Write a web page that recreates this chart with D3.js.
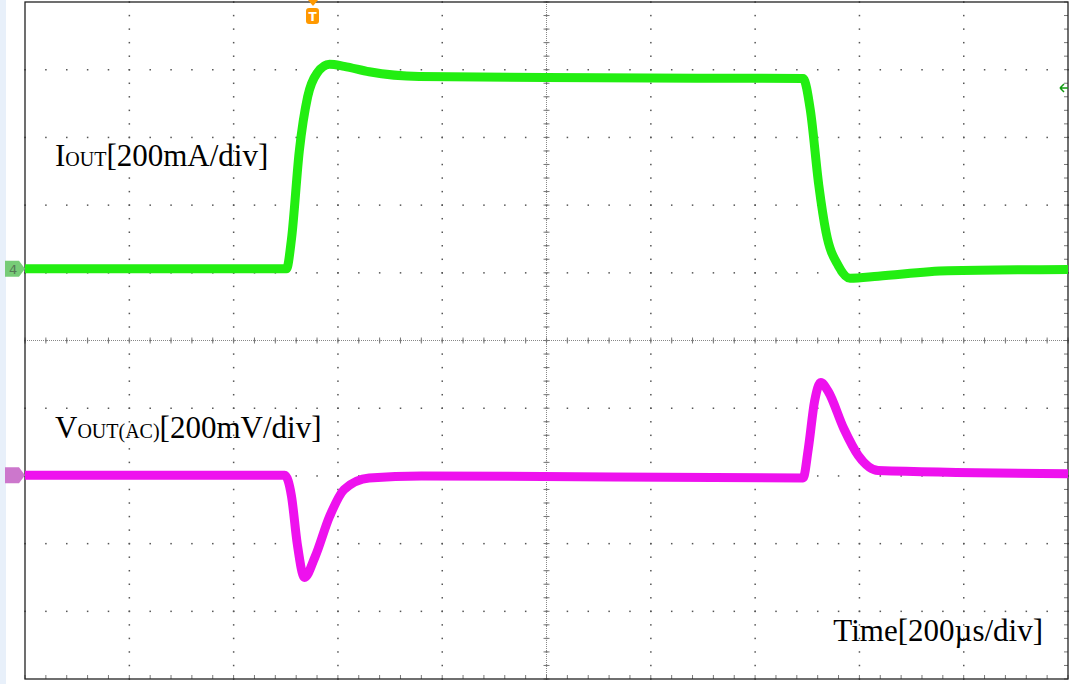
<!DOCTYPE html><html><head><script src="https://cdn.jsdelivr.net/npm/d3@7"></script>
<style>body{margin:0;background:#fff}</style></head><body><svg id="c" width="1071" height="684"></svg><script>
const iTime=[0,2.507,2.555,2.63,2.71,2.80,2.92,3.06,3.30,3.78,5.5,7.46,7.53,7.61,7.68,7.80,7.91,8.18,8.85,10];
const iVal=[1.06,1.06,1.5,2.8,3.6,3.95,4.08,4.05,3.97,3.9,3.88,3.87,3.4,2.3,1.6,1.1,0.92,0.95,1.03,1.05];
const vTime=[0,2.49,2.555,2.61,2.68,2.78,2.92,3.06,3.30,3.8,7.46,7.51,7.57,7.63,7.70,7.85,7.99,8.18,10];
const vVal=[-1.99,-1.99,-2.3,-3.0,-3.5,-3.2,-2.6,-2.2,-2.03,-2.0,-2.03,-1.6,-0.9,-0.62,-0.75,-1.3,-1.7,-1.92,-1.97];
const svg=d3.select("#c");
const x=d3.scaleLinear().domain([0,10]).range([25,1068]);
const y=d3.scaleLinear().domain([-5,5]).range([679,2]);
svg.append("rect").attr("x",0).attr("y",0).attr("width",6).attr("height",684).attr("fill","#e8f0fa");
const g=svg.append("g");
for(let i=1;i<10;i++){for(let j=0;j<=50;j++){g.append("rect").attr("x",x(i)-0.7).attr("y",y(-5+j/5)-0.7).attr("width",1.5).attr("height",1.5).attr("fill","#555");}}
for(let j=1;j<10;j++){for(let i=0;i<=50;i++){g.append("rect").attr("x",x(i/5)-0.7).attr("y",y(-5+j)-0.7).attr("width",1.5).attr("height",1.5).attr("fill","#555");}}
g.append("line").attr("x1",x(0)).attr("x2",x(10)).attr("y1",y(0)).attr("y2",y(0)).attr("stroke","#888").attr("stroke-dasharray","1,1");
g.append("line").attr("y1",y(-5)).attr("y2",y(5)).attr("x1",x(5)).attr("x2",x(5)).attr("stroke","#888").attr("stroke-dasharray","1,1");
for(let i=0;i<=50;i++){g.append("line").attr("x1",x(i/5)).attr("x2",x(i/5)).attr("y1",y(0)-3).attr("y2",y(0)+3).attr("stroke","#777");
 g.append("line").attr("y1",y(-5+i/5)).attr("y2",y(-5+i/5)).attr("x1",x(5)-3).attr("x2",x(5)+3).attr("stroke","#777");
 g.append("line").attr("y1",y(-5+i/5)).attr("y2",y(-5+i/5)).attr("x1",x(10)-4).attr("x2",x(10)).attr("stroke","#777");
 g.append("line").attr("x1",x(i/5)).attr("x2",x(i/5)).attr("y1",y(-5)-4).attr("y2",y(-5)).attr("stroke","#777");}
svg.append("rect").attr("x",x(0)).attr("y",y(5)).attr("width",x(10)-x(0)).attr("height",y(-5)-y(5)).attr("fill","none").attr("stroke","#222").attr("stroke-width",1.3);
const line=d3.line().x(d=>x(d[0])).y(d=>y(d[1])).curve(d3.curveMonotoneX);
svg.append("path").attr("d",line(iTime.map((t,i)=>[t,iVal[i]]))).attr("fill","none").attr("stroke","#22ee11").attr("stroke-width",9);
svg.append("path").attr("d",line(vTime.map((t,i)=>[t,vVal[i]]))).attr("fill","none").attr("stroke","#ee11ee").attr("stroke-width",9);
svg.append("path").attr("d",`M5,${y(1.06)-8}h14l6,8l-6,8h-14z`).attr("fill","#77cc77");
svg.append("text").attr("x",9).attr("y",y(1.06)+5).text("4").attr("font-size",13).attr("font-family","DejaVu Sans").attr("fill","#557755");
svg.append("path").attr("d",`M5,${y(-1.99)-8}h14l6,8l-6,8h-14z`).attr("fill","#cc77cc");
svg.append("path").attr("d",`M1068,88l-8,0m0,0l4,-4m-4,4l4,4`).attr("stroke","#119911").attr("stroke-width",1.5).attr("fill","none");
svg.append("path").attr("d",`M308,0h10l-5,6z`).attr("fill","#f90");
svg.append("rect").attr("x",306).attr("y",8).attr("width",13).attr("height",16).attr("rx",3).attr("fill","#f90");
svg.append("text").attr("x",312.5).attr("y",21).attr("text-anchor","middle").text("T").attr("font-size",12).attr("font-weight","bold").attr("font-family","DejaVu Sans").attr("fill","#fff");
const f="Liberation Serif";
const t1=svg.append("text").attr("x",55).attr("y",166).attr("font-family",f).attr("font-size",31);
t1.append("tspan").text("I");t1.append("tspan").text("OUT").attr("font-size",20);t1.append("tspan").text("[200mA/div]");
const t2=svg.append("text").attr("x",55).attr("y",438).attr("font-family",f).attr("font-size",31);
t2.append("tspan").text("V");t2.append("tspan").text("OUT(AC)").attr("font-size",20);t2.append("tspan").text("[200mV/div]");
svg.append("text").attr("x",1043).attr("y",641).attr("text-anchor","end").attr("font-family",f).attr("font-size",31).text("Time[200µs/div]");
</script></body></html>
